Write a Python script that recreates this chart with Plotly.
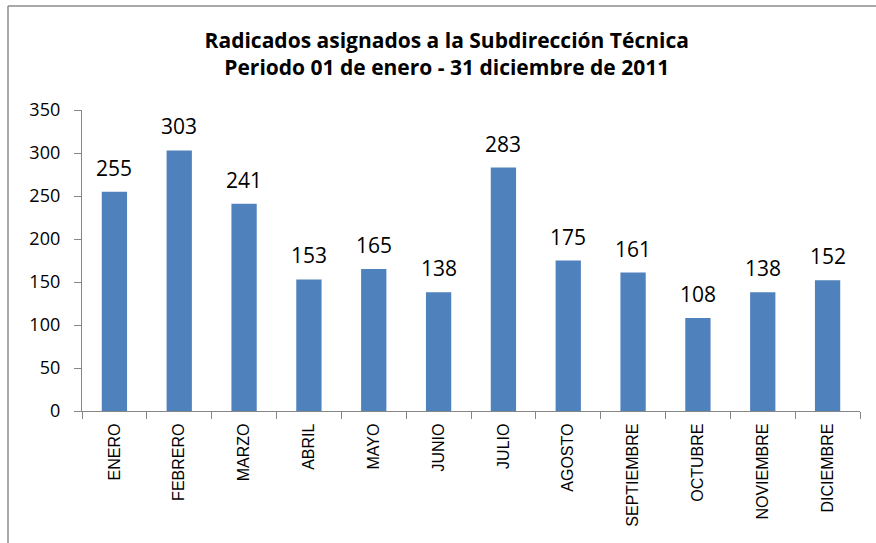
import plotly.graph_objects as go

months = ["ENERO", "FEBRERO", "MARZO", "ABRIL", "MAYO", "JUNIO", "JULIO",
          "AGOSTO", "SEPTIEMBRE", "OCTUBRE", "NOVIEMBRE", "DICIEMBRE"]
radicados = [255, 303, 241, 153, 165, 138, 283, 175, 161, 108, 138, 152]
y_ticks = [0, 50, 100, 150, 200, 250, 300, 350]

title_text = ("<b>Radicados asignados a la Subdirección Técnica</b><br>"
              "<b>Periodo 01 de enero - 31 diciembre de 2011</b>")

fig = go.Figure(go.Bar(
    x=months, y=radicados,
    marker=dict(color="#4F81BD", line=dict(width=0)),
    cliponaxis=False,
))

for m, v in zip(months, radicados):
    fig.add_annotation(x=m, y=v, text=str(v), showarrow=False,
                       yanchor="middle", yshift=24,
                       font=dict(family="Open Sans, Lato, sans-serif", size=21, color="#000000"))

L, R, T, B = 82, 16, 110, 132
W, H = 876, 543
pw = W - L - R
ph = H - T - B

fig.update_layout(
    width=W, height=H,
    margin=dict(l=L, r=R, t=T, b=B, pad=0),
    paper_bgcolor="white", plot_bgcolor="white",
    bargap=0.61,
    showlegend=False,
    title=dict(text=title_text, x=0.51, xanchor="center", y=1 - 48 / H, yanchor="middle",
               font=dict(family="Open Sans, Lato, sans-serif", size=21, color="#000000")),
    xaxis=dict(
        type="category", showline=True, linecolor="#868686", linewidth=1.3,
        ticks="outside", tickson="boundaries", ticklen=7, tickcolor="#868686",
        tickangle=-90, showgrid=False, ticklabelstandoff=5,
        tickfont=dict(family="Liberation Sans, Arial, sans-serif", size=16, color="#000000"),
    ),
    yaxis=dict(
        range=[0, 350], tickvals=y_ticks, showline=True, linecolor="#868686", linewidth=1.3,
        ticks="outside", ticklen=7, tickcolor="#868686", showgrid=False, zeroline=False,
        ticklabelstandoff=10,
        tickfont=dict(family="Open Sans, Lato, sans-serif", size=18, color="#000000"),
    ),
    shapes=[
        dict(type="line", xref="paper", yref="paper",
             x0=(8 - L) / pw, x1=(W + 10 - L) / pw,
             y0=(H - B - 6) / ph, y1=(H - B - 6) / ph,
             line=dict(color="#8C8C8C", width=1.5)),
        dict(type="line", xref="paper", yref="paper",
             x0=(8 - L) / pw, x1=(8 - L) / pw,
             y0=(H - B - 6) / ph, y1=-(B + 20) / ph,
             line=dict(color="#8C8C8C", width=1.5)),
    ],
)

fig.write_html("out.html", config={"displayModeBar": False},
               post_script="document.body.style.margin='0';")
